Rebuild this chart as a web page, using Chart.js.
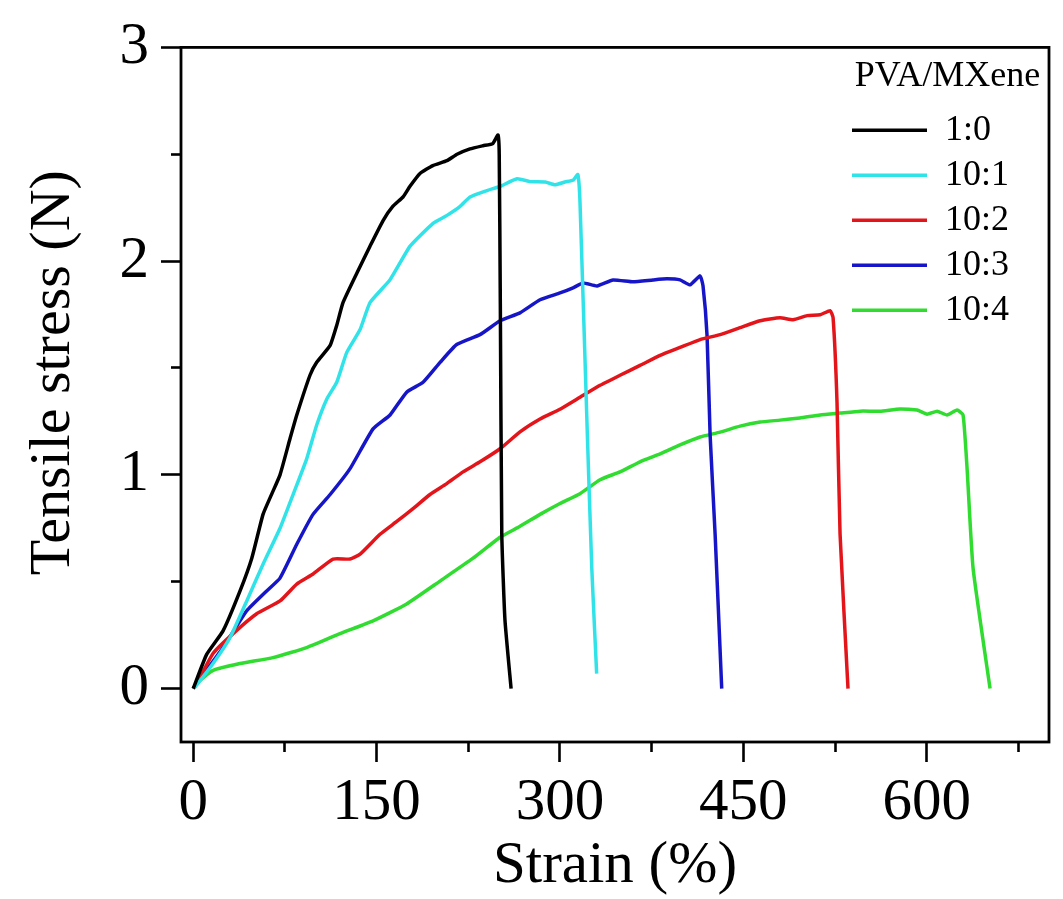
<!DOCTYPE html>
<html>
<head>
<meta charset="utf-8">
<title>Tensile stress vs strain</title>
<script src="https://cdn.jsdelivr.net/npm/chart.js@4.4.1/dist/chart.umd.min.js"></script>
<style>
  body { margin: 0; background: #fff; }
  canvas { display: block; }
</style>
</head>
<body>
<canvas id="tensileChart" width="1063" height="899"></canvas>
<script>
const seriesLabels = ['1:0', '10:1', '10:2', '10:3', '10:4'];
const seriesColors = ['#000000', '#30e3e8', '#e3151a', '#1616c8', '#2fdc2f'];

// PVA/MXene 1:0
const strain1_0 = [0, 11, 24.4, 38.3, 47.9, 57.1, 64.2, 71, 79.2, 84.7, 95.5, 101, 112, 117.4, 122.5, 134, 144.6, 155.3, 163.4, 171.6, 177.3, 185.5, 196, 207.5, 215.8, 226.4, 237, 245, 249.3, 250.3, 251.2, 252.4, 255, 260];
const stress1_0 = [0, 0.16, 0.27, 0.457, 0.61, 0.815, 0.91, 1.0, 1.17, 1.28, 1.466, 1.527, 1.606, 1.70, 1.806, 1.946, 2.07, 2.19, 2.257, 2.30, 2.35, 2.41, 2.447, 2.47, 2.50, 2.525, 2.54, 2.55, 2.59, 2.5, 1.8, 0.72, 0.32, 0];

// PVA/MXene 10:1
const strain10_1 = [0, 1.5, 16.2, 30.1, 43.8, 57.1, 71, 81.7, 92.8, 101, 109.2, 117.4, 125.6, 136.5, 144.6, 161, 177.4, 196.2, 207.6, 218.3, 226.4, 240.3, 251, 264.9, 275.6, 288, 296, 304, 311, 314.6, 316.4, 322.4, 326, 330];
const stress10_1 = [0, 0.007, 0.117, 0.238, 0.41, 0.582, 0.75, 0.908, 1.075, 1.233, 1.354, 1.433, 1.573, 1.68, 1.806, 1.913, 2.07, 2.177, 2.214, 2.256, 2.30, 2.33, 2.35, 2.385, 2.372, 2.37, 2.357, 2.37, 2.38, 2.405, 2.27, 1.185, 0.565, 0.07];

// PVA/MXene 10:2
const strain10_2 = [0, 2.9, 16.2, 32.6, 51.9, 71, 84.7, 98, 114.4, 128.3, 136.5, 152.8, 166.5, 179.8, 193.7, 207.4, 220.7, 234.6, 251, 267.3, 283.7, 300, 316.4, 332.8, 349.1, 365.5, 381.9, 398.2, 414.6, 431, 447.3, 463.7, 480, 490.7, 502.2, 512.8, 521, 523.4, 526.6, 529.1, 535.6];
const stress10_2 = [0, 0.024, 0.164, 0.257, 0.35, 0.41, 0.489, 0.536, 0.606, 0.606, 0.629, 0.722, 0.782, 0.842, 0.908, 0.959, 1.014, 1.061, 1.122, 1.201, 1.261, 1.307, 1.363, 1.419, 1.466, 1.512, 1.559, 1.596, 1.633, 1.656, 1.689, 1.721, 1.735, 1.726, 1.745, 1.749, 1.768, 1.735, 1.34, 0.722, 0];

// PVA/MXene 10:3
const strain10_3 = [0, 2.9, 24.4, 43.8, 60.1, 71, 84.7, 98, 112, 128.3, 147.1, 161, 174.6, 188, 201.9, 215.5, 234.6, 251, 267.3, 283.7, 300, 310.7, 318.9, 330.3, 343.4, 359.8, 376.1, 387.6, 398.2, 406.4, 414.6, 417, 420.3, 422.8, 426.9, 432.3];
const stress10_3 = [0, 0.024, 0.192, 0.364, 0.457, 0.517, 0.675, 0.815, 0.908, 1.029, 1.215, 1.28, 1.387, 1.433, 1.526, 1.61, 1.656, 1.721, 1.758, 1.819, 1.851, 1.875, 1.898, 1.884, 1.912, 1.903, 1.912, 1.917, 1.912, 1.889, 1.931, 1.884, 1.651, 1.186, 0.721, 0];

// PVA/MXene 10:4
const strain10_4 = [0, 2.9, 16.2, 38.3, 65.3, 92.8, 120.1, 147.1, 174.6, 201.9, 228.9, 251, 267.3, 283.7, 300, 316.4, 332.8, 349.1, 365.5, 381.9, 398.2, 414.6, 431, 447.3, 463.7, 480, 496.3, 512.8, 529.1, 545.5, 561.8, 578.2, 592.1, 600.3, 608.5, 616.6, 624.8, 629.7, 633, 637.9, 651.8];
const stress10_4 = [0, 0.024, 0.085, 0.117, 0.145, 0.192, 0.257, 0.317, 0.396, 0.503, 0.61, 0.708, 0.759, 0.815, 0.866, 0.912, 0.977, 1.014, 1.061, 1.098, 1.14, 1.177, 1.2, 1.228, 1.247, 1.256, 1.266, 1.28, 1.289, 1.298, 1.298, 1.308, 1.303, 1.284, 1.298, 1.28, 1.303, 1.28, 1.029, 0.563, 0];

const xMajorTicks = [0, 150, 300, 450, 600];
const xMinorTicks = [75, 225, 375, 525, 675];
const yMajorTicks = [0, 1, 2, 3];
const yMinorTicks = [0.5, 1.5, 2.5];

const xTitle = 'Strain (%)';
const yTitle = 'Tensile stress (N)';

const strainSets = [strain1_0, strain10_1, strain10_2, strain10_3, strain10_4];
const stressSets = [stress1_0, stress10_1, stress10_2, stress10_3, stress10_4];

const serif = "'Liberation Serif', 'Times New Roman', serif";
const ctx = document.getElementById('tensileChart');

function toPoints(xs, ys) {
    return xs.map((x, i) => ({ x: x, y: ys[i] }));
}

const datasets = seriesLabels.map((label, i) => ({
    label: label,
    data: toPoints(strainSets[i], stressSets[i]),
    borderColor: seriesColors[i],
    backgroundColor: seriesColors[i],
    borderWidth: 3.5,
    pointRadius: 0,
    tension: 0.15,
    xAxisID: 'x',
    yAxisID: 'y'
}));

function fixedTicks(values) {
    return (scale) => { scale.ticks = values.map(v => ({ value: v })); };
}

// black box around the plot area
const framePlugin = {
    id: 'frame',
    afterDraw(chart) {
        const a = chart.chartArea;
        const c = chart.ctx;
        c.save();
        c.strokeStyle = '#000';
        c.lineWidth = 2.8;
        c.strokeRect(a.left, a.top, a.right - a.left, a.bottom - a.top);
        c.restore();
    }
};

// rotated y title, sitting a little above the middle of the axis
const yTitlePlugin = {
    id: 'yTitle',
    afterDraw(chart) {
        const c = chart.ctx;
        const a = chart.chartArea;
        c.save();
        c.translate(54, (a.top + a.bottom) / 2 - 22);
        c.rotate(-Math.PI / 2);
        c.font = "58px " + serif;
        c.fillStyle = '#000';
        c.textAlign = 'center';
        c.textBaseline = 'middle';
        c.fillText(yTitle, 0, 0);
        c.restore();
    }
};

// move the legend into the upper right corner of the plot
const legendPlacer = {
    id: 'legendPlacer',
    afterLayout(chart) {
        const lg = chart.legend;
        lg.left = 843;
        lg.width = 209;
        lg.right = lg.left + lg.width;
        lg.top = 59;
        lg.bottom = 742;
        lg.height = lg.bottom - lg.top;
    }
};

const tickFont = { family: serif, size: 59 };

new Chart(ctx, {
    type: 'line',
    data: { datasets: datasets },
    options: {
        responsive: false,
        animation: false,
        devicePixelRatio: 1,
        layout: { padding: { top: 43, right: 14, left: 0, bottom: 0 } },
        plugins: {
            tooltip: { enabled: false },
            legend: {
                position: 'chartArea',
                fullSize: false,
                align: 'start',
                title: {
                    display: true,
                    text: 'PVA/MXene',
                    position: 'center',
                    color: '#000',
                    font: { family: serif, size: 36 },
                    padding: { top: 0, bottom: 1 }
                },
                labels: {
                    usePointStyle: true,
                    pointStyle: 'line',
                    pointStyleWidth: 75,
                    color: '#000',
                    padding: 9,
                    font: { family: serif, size: 36 }
                }
            }
        },
        scales: {
            x: {
                type: 'linear',
                position: 'bottom',
                min: -10,
                max: 700,
                afterBuildTicks: fixedTicks(xMajorTicks),
                afterFit: (s) => { s.height = 157; },
                border: { display: false },
                grid: { drawOnChartArea: false, drawTicks: true, tickLength: 20, tickWidth: 2.6, tickColor: '#000' },
                ticks: { color: '#000', font: tickFont, padding: 6, maxRotation: 0, autoSkip: false },
                title: {
                    display: true,
                    text: xTitle,
                    color: '#000',
                    font: { family: serif, size: 59, lineHeight: 1 },
                    padding: { top: 0, bottom: 3 }
                }
            },
            y: {
                type: 'linear',
                position: 'left',
                min: -0.25,
                max: 3,
                afterBuildTicks: fixedTicks(yMajorTicks),
                afterFit: (s) => { s.width = 181; },
                border: { display: false },
                grid: { drawOnChartArea: false, drawTicks: true, tickLength: 20, tickWidth: 2.6, tickColor: '#000' },
                ticks: { color: '#000', font: tickFont, padding: 12, autoSkip: false }
            },
            xMinor: {
                type: 'linear',
                axis: 'x',
                position: { y: -0.25 },
                min: -10,
                max: 700,
                afterBuildTicks: fixedTicks(xMinorTicks),
                border: { display: false },
                grid: { drawOnChartArea: false, drawTicks: true, tickLength: 10, tickWidth: 2.6, tickColor: '#000' },
                ticks: { display: false }
            },
            yMinor: {
                type: 'linear',
                axis: 'y',
                position: { x: -10 },
                min: -0.25,
                max: 3,
                afterBuildTicks: fixedTicks(yMinorTicks),
                border: { display: false },
                grid: { drawOnChartArea: false, drawTicks: true, tickLength: 10, tickWidth: 2.6, tickColor: '#000' },
                ticks: { display: false }
            }
        }
    },
    plugins: [legendPlacer, framePlugin, yTitlePlugin]
});
</script>
</body>
</html>
